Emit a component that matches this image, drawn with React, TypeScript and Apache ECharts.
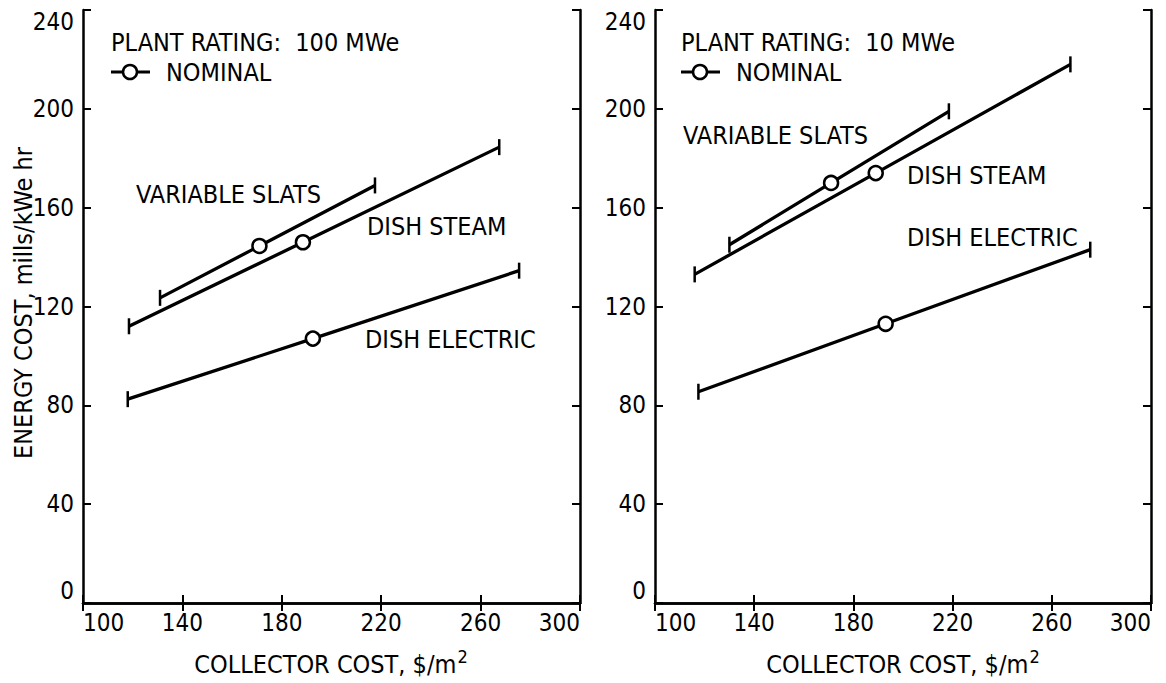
import React, { useEffect, useRef } from "react";
import * as echarts from "echarts";

const FONT = "'Liberation Sans Narrow', 'DejaVu Sans Condensed', 'Arial Narrow', sans-serif";

// axis ticks
const xTicks = [100, 140, 180, 220, 260, 300];
const yMin = 0;
const yMax = 240;
const yStep = 40;

// PLANT RATING: 100 MWe (left panel) — [start, nominal, end]
const slats100X = [131, 171, 217.5];
const slats100Y = [123.5, 144.5, 169];
const steam100X = [118.5, 188.5, 267.5];
const steam100Y = [112, 146, 184.5];
const elec100X = [118, 192.5, 275.5];
const elec100Y = [82.5, 107, 134.5];

// PLANT RATING: 10 MWe (right panel)
const slats10X = [130, 171, 218.5];
const slats10Y = [145, 170, 199];
const steam10X = [116, 189, 267.5];
const steam10Y = [133, 174, 218];
const elec10X = [117.5, 193, 275.5];
const elec10Y = [85.5, 113, 143];

const panelTitles = ["PLANT RATING:  100 MWe", "PLANT RATING:  10 MWe"];
const curveNames = ["VARIABLE SLATS", "DISH STEAM", "DISH ELECTRIC"];
const legendName = "NOMINAL";
const xTitle = "COLLECTOR COST, $/m";
const yTitle = "ENERGY COST, mills/kWe hr";

const BLACK = "#000";

function makeData(xs: number[], ys: number[]) {
  return xs.map((x, i) => {
    const mid = i === 1;
    return {
      value: [x, ys[i]],
      symbol: mid ? "circle" : "rect",
      symbolSize: mid ? 14 : [2.5, 16],
      itemStyle: mid
        ? { color: "#fff", borderColor: BLACK, borderWidth: 2.5 }
        : { color: BLACK, borderWidth: 0 },
    };
  });
}

function lineSeries(name: string, xs: number[], ys: number[], idx: number) {
  return {
    type: "line",
    name,
    xAxisIndex: idx * 2,
    yAxisIndex: idx * 2,
    data: makeData(xs, ys),
    lineStyle: { color: BLACK, width: 3.3 },
    showSymbol: true,
    z: 5,
    silent: true,
  };
}

export default function App() {
  const ref = useRef<HTMLDivElement>(null);
  useEffect(() => {
    if (!ref.current) return;
    const chart = echarts.init(ref.current, undefined, { renderer: "svg" });

    const grids = [
      { left: 83, top: 10, width: 497, height: 593 },
      { left: 655, top: 10, width: 496, height: 593 },
    ];

    const xAxes: any[] = [];
    const yAxes: any[] = [];
    grids.forEach((_, gi) => {
      xAxes.push({
        type: "value",
        gridIndex: gi,
        position: "bottom",
        min: xTicks[0],
        max: xTicks[xTicks.length - 1],
        axisLine: { show: true, lineStyle: { color: BLACK, width: 2.5 } },
        axisTick: {
          show: true,
          inside: true,
          length: 8,
          customValues: xTicks,
          lineStyle: { color: BLACK, width: 2 },
        },
        axisLabel: {
          show: true,
          customValues: xTicks,
          margin: 8,
          color: BLACK,
          fontFamily: FONT,
          fontSize: 24,
          alignMinLabel: "left",
          alignMaxLabel: "right",
        },
        splitLine: { show: false },
      });
      xAxes.push({
        type: "value",
        gridIndex: gi,
        position: "top",
        min: xTicks[0],
        max: xTicks[xTicks.length - 1],
        axisLine: { show: true, lineStyle: { color: BLACK, width: 2.5 } },
        axisTick: {
          show: true,
          inside: true,
          length: 8,
          customValues: xTicks,
          lineStyle: { color: BLACK, width: 2 },
        },
        axisLabel: { show: false },
        splitLine: { show: false },
      });
      yAxes.push({
        type: "value",
        gridIndex: gi,
        position: "left",
        min: yMin,
        max: yMax,
        interval: yStep,
        axisLine: { show: true, lineStyle: { color: BLACK, width: 2.5 } },
        axisTick: { show: true, inside: true, length: 8, lineStyle: { color: BLACK, width: 2 } },
        axisLabel: {
          show: true,
          margin: 9,
          color: BLACK,
          fontFamily: FONT,
          fontSize: 24,
          verticalAlignMinLabel: "bottom",
          verticalAlignMaxLabel: "top",
        },
        splitLine: { show: false },
      });
      yAxes.push({
        type: "value",
        gridIndex: gi,
        position: "right",
        min: yMin,
        max: yMax,
        interval: yStep,
        axisLine: { show: true, lineStyle: { color: BLACK, width: 2.5 } },
        axisTick: { show: true, inside: true, length: 8, lineStyle: { color: BLACK, width: 2 } },
        axisLabel: { show: false },
        splitLine: { show: false },
      });
    });

    const txt = (x: number, y: number, text: string, extra: any = {}) => ({
      type: "text",
      x,
      y,
      silent: true,
      style: {
        text,
        fill: BLACK,
        font: `25px ${FONT}`,
        align: "left",
        verticalAlign: "middle",
        ...extra,
      },
    });

    const legend = (x0: number, y0: number) => [
      {
        type: "line",
        silent: true,
        shape: { x1: x0, y1: y0, x2: x0 + 39, y2: y0 },
        style: { stroke: BLACK, lineWidth: 3 },
      },
      {
        type: "circle",
        silent: true,
        shape: { cx: x0 + 19, cy: y0, r: 7 },
        style: { fill: "#fff", stroke: BLACK, lineWidth: 2.5 },
      },
      txt(x0 + 55, y0, legendName),
    ];

    const xTitleText = (cx: number) => ({
      type: "text",
      x: cx,
      y: 664,
      silent: true,
      style: {
        text: `{a|${xTitle}}{s|2}`,
        align: "center",
        verticalAlign: "middle",
        rich: {
          a: { fontFamily: FONT, fontSize: 25, fill: BLACK, color: BLACK },
          s: { fontFamily: FONT, fontSize: 18, fill: BLACK, color: BLACK, padding: [0, 0, 16, 1] },
        },
      },
    });

    const graphic: any[] = [
      txt(111, 42, panelTitles[0]),
      ...legend(111, 72),
      txt(136, 194, curveNames[0]),
      txt(367, 226, curveNames[1]),
      txt(365, 339, curveNames[2]),
      txt(681, 42, panelTitles[1]),
      ...legend(681, 72),
      txt(683, 135, curveNames[0]),
      txt(907, 175, curveNames[1]),
      txt(907, 237, curveNames[2]),
      xTitleText(331),
      xTitleText(903),
      {
        type: "text",
        x: 23,
        y: 303,
        rotation: Math.PI / 2,
        silent: true,
        style: {
          text: yTitle,
          fill: BLACK,
          font: `25px ${FONT}`,
          align: "center",
          verticalAlign: "middle",
        },
      },
    ];

    chart.setOption({
      animation: false,
      backgroundColor: "#fff",
      textStyle: { fontFamily: FONT },
      grid: grids.map((g) => ({ ...g, containLabel: false })),
      xAxis: xAxes,
      yAxis: yAxes,
      series: [
        lineSeries(curveNames[0] + " 100", slats100X, slats100Y, 0),
        lineSeries(curveNames[1] + " 100", steam100X, steam100Y, 0),
        lineSeries(curveNames[2] + " 100", elec100X, elec100Y, 0),
        lineSeries(curveNames[0] + " 10", slats10X, slats10Y, 1),
        lineSeries(curveNames[1] + " 10", steam10X, steam10Y, 1),
        lineSeries(curveNames[2] + " 10", elec10X, elec10Y, 1),
      ],
      graphic,
    });

    return () => chart.dispose();
  }, []);

  return (
    <div
      ref={ref}
      style={{ position: "fixed", left: 0, top: 0, width: 1166, height: 683, background: "#fff" }}
    />
  );
}
